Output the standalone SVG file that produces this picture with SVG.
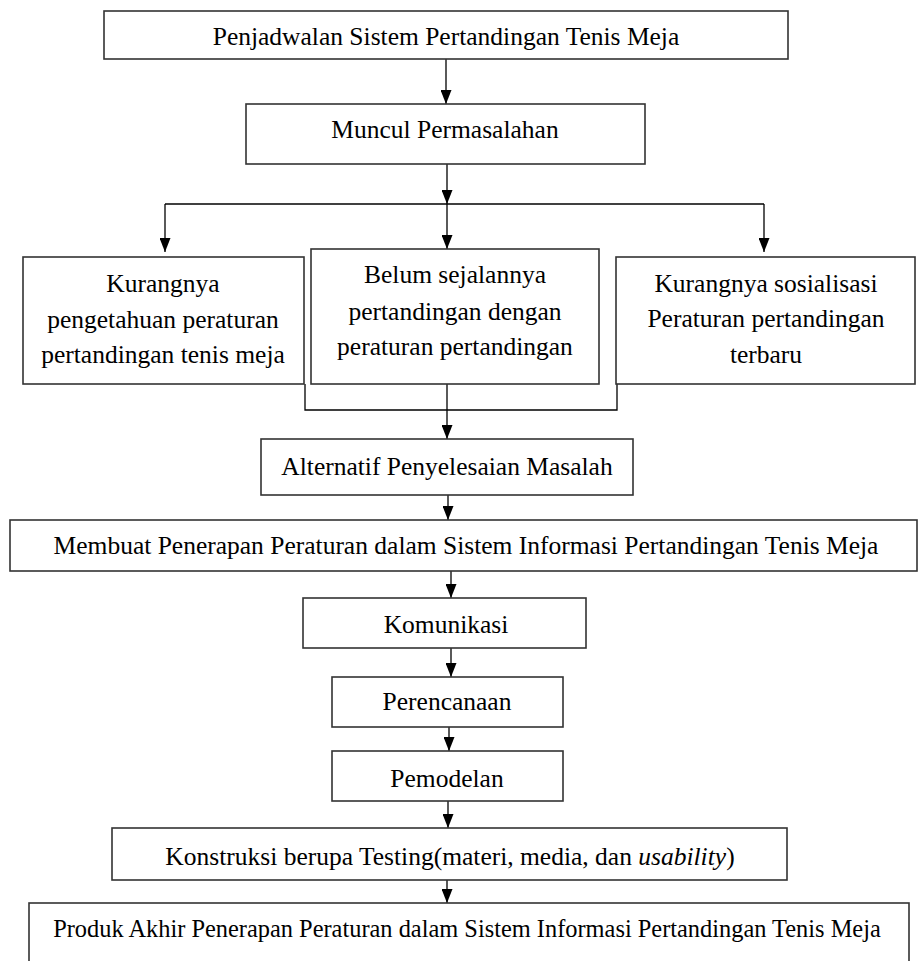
<svg xmlns="http://www.w3.org/2000/svg" width="919" height="961" viewBox="0 0 919 961">
<style>
.box{fill:#fff;stroke:#333;stroke-width:1.6}
.t{font-family:"Liberation Serif","Times New Roman",serif;font-size:25.5px;fill:#000;text-anchor:middle}
.c{fill:none;stroke:#000;stroke-width:1.3}
.a{marker-end:url(#ah)}
</style>
<defs>
<marker id="ah" viewBox="0 0 14 11" refX="14" refY="5.5" markerWidth="14" markerHeight="11" markerUnits="userSpaceOnUse" orient="auto">
<path d="M0,0 L14,5.5 L0,11 z" fill="#000"/>
</marker>
</defs>
<rect width="919" height="961" fill="#fff"/>
<g id="connectors">
<line class="c a" x1="446" y1="59" x2="446" y2="104"/>
<line class="c a" x1="447" y1="164" x2="447" y2="204"/>
<line class="c" x1="165" y1="204" x2="764" y2="204"/>
<line class="c a" x1="165" y1="204" x2="165" y2="252"/>
<line class="c a" x1="447" y1="204" x2="447" y2="249"/>
<line class="c a" x1="764" y1="204" x2="764" y2="252"/>
<polyline class="c" points="305,384 305,410 617,410 617,384"/>
<line class="c a" x1="447" y1="384" x2="447" y2="439"/>
<line class="c a" x1="448" y1="495" x2="448" y2="520"/>
<line class="c a" x1="451" y1="571" x2="451" y2="598"/>
<line class="c a" x1="451" y1="648" x2="451" y2="677"/>
<line class="c a" x1="449" y1="727" x2="449" y2="751"/>
<line class="c a" x1="448" y1="801" x2="448" y2="828"/>
<line class="c a" x1="447" y1="880" x2="447" y2="903"/>
</g>
<g id="n1"><rect class="box" x="104" y="11" width="684" height="48"/><text class="t" x="446" y="45">Penjadwalan Sistem Pertandingan Tenis Meja</text></g>
<g id="n2"><rect class="box" x="246" y="104" width="399" height="60"/><text class="t" x="445" y="138">Muncul Permasalahan</text></g>
<g id="n3"><rect class="box" x="23" y="257" width="281" height="127"/><text class="t" x="163" y="292">Kurangnya</text><text class="t" x="163" y="328">pengetahuan peraturan</text><text class="t" x="163" y="363">pertandingan tenis meja</text></g>
<g id="n4"><rect class="box" x="311" y="249" width="288" height="135"/><text class="t" x="455" y="283">Belum sejalannya</text><text class="t" x="455" y="320">pertandingan dengan</text><text class="t" x="455" y="355">peraturan pertandingan</text></g>
<g id="n5"><rect class="box" x="616" y="257" width="299" height="127"/><text class="t" x="766" y="292">Kurangnya sosialisasi</text><text class="t" x="766" y="327">Peraturan pertandingan</text><text class="t" x="766" y="363">terbaru</text></g>
<g id="n6"><rect class="box" x="261" y="439" width="372" height="56"/><text class="t" x="447" y="475">Alternatif Penyelesaian Masalah</text></g>
<g id="n7"><rect class="box" x="10" y="520" width="907" height="51"/><text class="t" x="466" y="554">Membuat Penerapan Peraturan dalam Sistem Informasi Pertandingan Tenis Meja</text></g>
<g id="n8"><rect class="box" x="303" y="598" width="283" height="50"/><text class="t" x="446" y="633">Komunikasi</text></g>
<g id="n9"><rect class="box" x="332" y="677" width="231" height="50"/><text class="t" x="447" y="710">Perencanaan</text></g>
<g id="n10"><rect class="box" x="332" y="751" width="231" height="50"/><text class="t" x="447" y="787">Pemodelan</text></g>
<g id="n11"><rect class="box" x="112" y="828" width="675" height="52"/><text class="t" x="450" y="865">Konstruksi berupa Testing(materi, media, dan <tspan font-style="italic">usability</tspan>)</text></g>
<g id="n12"><rect class="box" x="29" y="903" width="880" height="70"/><text class="t" x="467" y="937" style="font-size:24.4px">Produk Akhir Penerapan Peraturan dalam Sistem Informasi Pertandingan Tenis Meja</text></g>
</svg>
